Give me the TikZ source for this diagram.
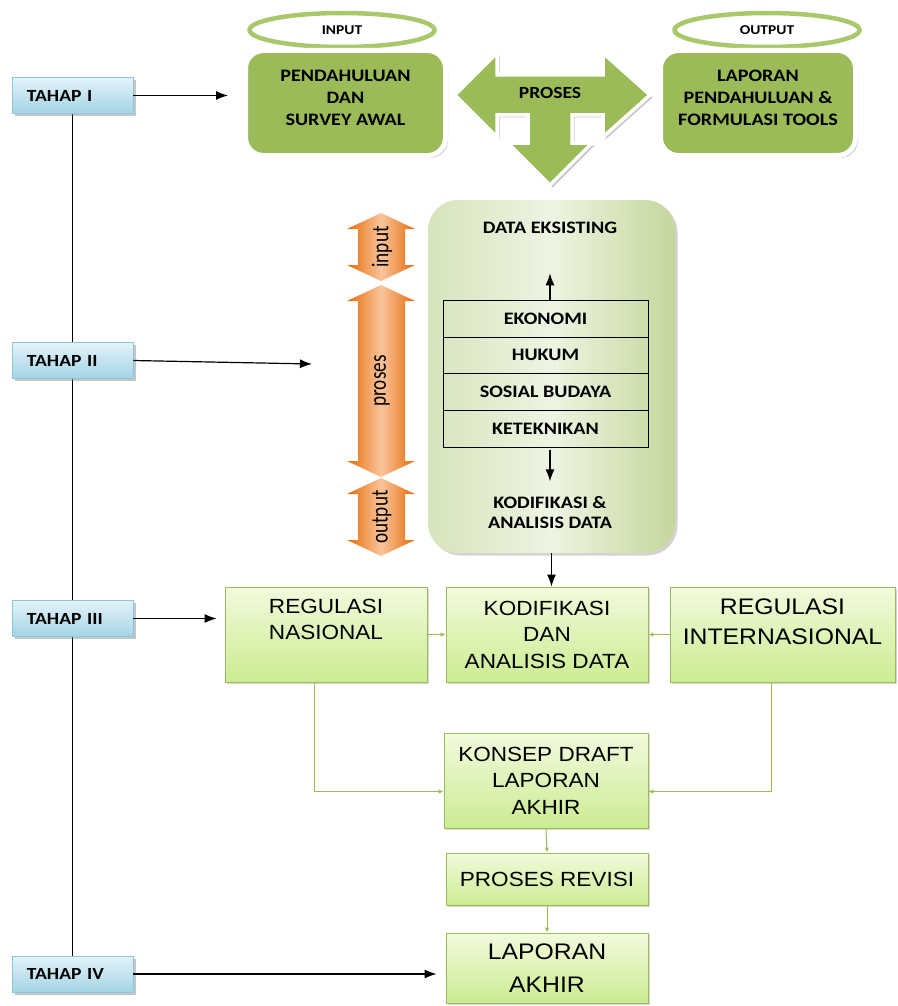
\documentclass[tikz,border=0pt]{standalone}
\usepackage{fontspec}
\setmainfont{Carlito}[FakeStretch=1.15]
\newfontfamily\arialf{Liberation Sans}[FakeStretch=1.1]
\newfontfamily\narrowf{Carlito}[FakeStretch=0.8]
\usetikzlibrary{positioning,arrows.meta,shadows,shapes.geometric,backgrounds}
\definecolor{olv}{RGB}{155,187,89}
\definecolor{olvlite}{RGB}{169,200,108}
\definecolor{lime1}{RGB}{242,250,220}
\definecolor{lime2}{RGB}{203,236,146}
\definecolor{sky1}{RGB}{228,243,249}
\definecolor{sky2}{RGB}{163,212,229}
\definecolor{skyln}{RGB}{140,198,219}
\definecolor{orng}{RGB}{228,108,10}
\definecolor{orngl}{RGB}{250,196,155}
\definecolor{pnlL}{RGB}{214,228,188}
\definecolor{pnlM}{RGB}{238,244,226}
\definecolor{pnlR}{RGB}{196,215,155}

\begin{document}
\begin{tikzpicture}[
	x=1pt, y=-1pt,
	tahap/.style={rectangle, top color=sky1, bottom color=sky2, draw=skyln, line width=.8pt,
		minimum height=36pt, text width=91pt, inner xsep=15pt, align=left,
		font=\bfseries\fontsize{17}{20}\selectfont,
		drop shadow={shadow xshift=2.5pt, shadow yshift=-2.5pt, opacity=.45}},
	tbox/.style={rounded corners=18pt, fill=olv, draw=white, line width=5pt, align=center,
		minimum width=200pt, minimum height=105pt, text depth=10pt,
		font=\bfseries\fontsize{17.5}{22}\selectfont,
		drop shadow={shadow xshift=2.5pt, shadow yshift=-2.5pt, opacity=.45}},
	oval/.style={ellipse, draw=olvlite, line width=4.5pt, fill=white,
		minimum width=185pt, minimum height=34pt, font=\bfseries\fontsize{13.5}{15}\selectfont},
	panel/.style={rounded corners=30pt, minimum width=247pt, minimum height=353pt,
		left color=pnlL, right color=pnlR, middle color=pnlM,
		drop shadow={shadow xshift=2.5pt, shadow yshift=-2.5pt, opacity=.35}},
	lay/.style={rectangle, draw=black, line width=.6pt, outer sep=0pt,
		minimum width=205pt, minimum height=36.75pt, font=\bfseries\fontsize{17.5}{20}\selectfont},
	gbox/.style={rectangle, top color=lime1, bottom color=lime2, draw=olv, line width=.8pt, align=center,
		minimum width=202pt, minimum height=95pt, font=\arialf\fontsize{20.5}{26.5}\selectfont,
		drop shadow={shadow xshift=1.5pt, shadow yshift=-1.5pt, opacity=.3}},
	blk/.style={-{Latex[length=12pt,width=9pt]}, line width=1.2pt},
	grn/.style={-{Latex[length=5pt,width=4.5pt]}, draw=olv, line width=1pt},
	orarr/.style={left color=orng, right color=orng, middle color=orngl}
	]
	\useasboundingbox (0,0) rectangle (897,1006);

	\node[oval] (inp) at (342,30) {INPUT};
	\node[oval] (outp) at (767,30) {OUTPUT};
	\node[tbox] (pend) at (345.5,103) {PENDAHULUAN\\DAN\\SURVEY AWAL};
	\node[tbox, minimum width=195pt] (lapp) at (758,103) {LAPORAN\\PENDAHULUAN \&\\FORMULASI TOOLS};

	\path[fill=olv, draw=white, line width=3.5pt,
		drop shadow={shadow xshift=2.5pt, shadow yshift=-2.5pt, opacity=.45}]
		(455,95) -- (497,53) -- (497,75) -- (603,75) -- (603,53) -- (650,95) -- (603,137)
		-- (603,115) -- (572,115) -- (572,143) -- (592,143) -- (550,185) -- (508,143)
		-- (528,143) -- (528,115) -- (497,115) -- (497,137) -- cycle;
	\node[font=\bfseries\fontsize{17}{20}\selectfont] (pros) at (550,93) {PROSES};

	\foreach \yt/\yb/\lbl in {213/281/input, 285/477/proses, 478/556/output}{
		\shade[orarr] (381,\yt) -- (415,\yt+16) -- (405,\yt+16) -- (405,\yb-16) -- (415,\yb-16)
			-- (381,\yb) -- (347,\yb-16) -- (358,\yb-16) -- (358,\yt+16) -- (347,\yt+16) -- cycle;
		\node[rotate=90, font=\narrowf\fontsize{24}{24}\selectfont] (o\lbl) at (382,{(\yt+\yb)/2}) {\lbl};
	}

	\node[panel] (pnl) at (551.5,376.5) {};
	\node[font=\bfseries\fontsize{17.5}{20}\selectfont] (deks) at (550,228) {DATA EKSISTING};
	\node[lay] (eko) at (545.5,318.5) {EKONOMI};
	\node[lay, below=0pt of eko] (huk) {HUKUM};
	\node[lay, below=0pt of huk] (sos) {SOSIAL BUDAYA};
	\node[lay, below=0pt of sos] (tek) {KETEKNIKAN};
	\node[font=\bfseries\fontsize{17.5}{20}\selectfont, align=center] (kodt) at (550,513) {KODIFIKASI \&\\ANALISIS DATA};
	\draw[blk, shorten >=36pt] (eko.north -| deks.south) -- (deks.south);
	\draw[blk, shorten <=3pt, shorten >=12pt] (tek.south -| kodt.north) -- (kodt.north);

	\node[gbox, text depth=30pt] (regnas) at (326,634.5) {REGULASI\\NASIONAL};
	\node[gbox] (kodif) at (547,634.5) {KODIFIKASI\\DAN\\ANALISIS DATA};
	\node[gbox, minimum width=225pt, text depth=25pt, font=\arialf\fontsize{22.5}{30}\selectfont] (regint) at (782.5,634.5) {REGULASI\\INTERNASIONAL};
	\node[gbox, minimum width=204pt] (konsep) at (546,780.5) {KONSEP DRAFT\\LAPORAN\\AKHIR};
	\node[gbox, minimum height=52pt] (revisi) at (547,879) {PROSES REVISI};
	\node[gbox, minimum height=70pt, font=\arialf\fontsize{22.5}{33}\selectfont] (lapak) at (547,968) {LAPORAN\\AKHIR};

	\draw[blk] (pnl.south) -- (pnl.south |- kodif.north);
	\draw[grn] (regnas.east) -- (kodif.west);
	\draw[grn] (regint.west) -- (kodif.east);
	\draw[grn] ([xshift=-12pt]regnas.south) |- ([yshift=-11pt]konsep.west);
	\draw[grn] ([xshift=-11pt]regint.south) |- ([yshift=-11pt]konsep.east);
	\draw[grn] (konsep.south) -- (revisi.north);
	\draw[grn] (revisi.south) -- (lapak.north);

	\node[tahap] (t1) at (72.5,95.5) {TAHAP I};
	\node[tahap] (t2) at (72.5,360.5) {TAHAP II};
	\node[tahap] (t3) at (72.5,618.5) {TAHAP III};
	\node[tahap] (t4) at (72.5,974) {TAHAP IV};
	\coordinate (a2) at (312,364);
	\begin{scope}[on background layer]
		\draw[line width=1.2pt] (t1.south) -- (t4.north);
	\end{scope}
	\draw[blk, shorten >=15pt] (t1.east) -- (t1.east -| pend.west);
	\draw[blk] (t2.east) -- (a2);
	\draw[blk, shorten >=8pt] (t3.east) -- (t3.east -| regnas.west);
	\draw[blk, shorten >=9pt] (t4.east) -- (t4.east -| lapak.west);
\end{tikzpicture}
\end{document}
